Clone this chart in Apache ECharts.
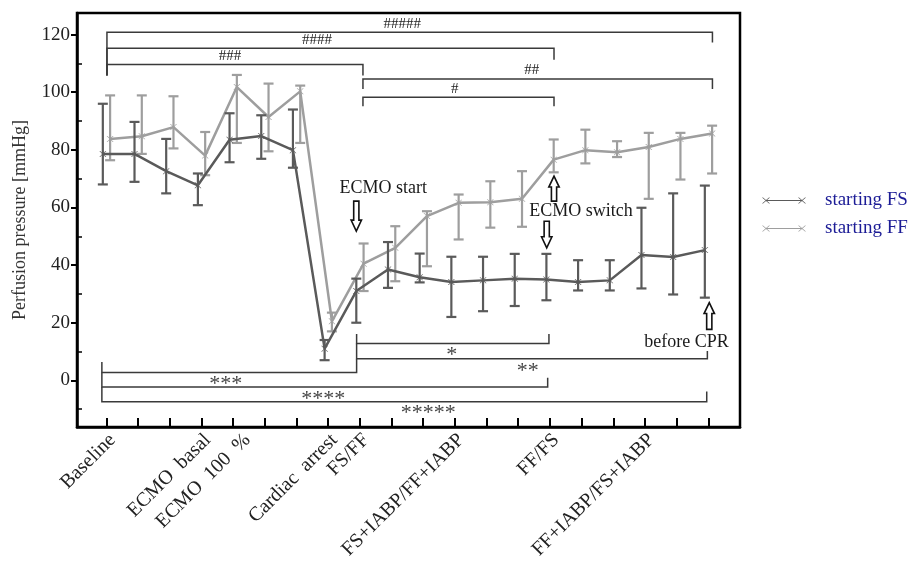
<!DOCTYPE html>
<html><head><meta charset="utf-8">
<script src="https://cdn.jsdelivr.net/npm/echarts@6/dist/echarts.min.js"></script>
<style>html,body{margin:0;padding:0;background:#fff}#c{width:919px;height:562px}</style>
</head><body><div id="c"></div>
<script>
// ---------- data ----------
const tickLabels = ['Baseline','ECMO  basal','ECMO  100  %','Cardiac  arrest','FS/FF','FS+IABP/FF+IABP','FF/FS','FF+IABP/FS+IABP'];
const tickLabelAt = [0,3,4,7,8,11,14,17];
const yTicks = [0,20,40,60,80,100,120];

const fsMean  = [78.6,78.6,72.6,67.7,83.5,84.8,79.9,11.0,31.0,38.5,35.8,34.1,34.7,35.3,35.0,34.1,34.7,43.5,42.8,45.2];
const fsUpper = [96.0,89.7,83.8,71.8,92.7,92.0,94.0,14.0,35.3,48.0,44.0,42.9,42.9,43.9,43.9,41.7,41.7,59.9,64.9,67.6];
const fsLower = [68.0,68.9,64.9,60.8,75.7,76.9,73.8, 7.0,20.0,32.1,34.0,22.0,24.0,25.8,27.8,31.2,31.2,31.9,29.8,28.7];

const ffMean  = [83.8,84.7,87.9,78.0,101.8,91.4,100.3,20.5,40.5,46.0,57.0,61.6,61.8,63.0,76.6,79.9,79.2,81.0,83.8,85.7];
const ffUpper = [98.9,98.9,98.6,86.2,106.0,103.0,102.3,23.5,47.5,53.5,58.7,64.5,69.1,72.6,83.6,87.0,83.0,85.9,85.9,88.4];
const ffLower = [76.4,78.6,80.5,71.2,82.4,79.5,82.4,17.0,31.0,34.4,39.6,48.9,53.0,53.3,72.2,75.3,77.5,63.0,69.7,71.8];

// comparison brackets: [from, to, level, endFrom, endTo, text, textAt]
const topBrackets = [
  [0.02, 19.13, 120.8, 105.8, 117.3, '#####', 9.34],
  [0.02, 14.13, 115.3, 105.8, 111.3, '####', 6.65],
  [0.02, 8.1, 109.6, 105.8, 105.8, '###', 3.9],
  [8.1, 19.13, 104.6, 101.1, 101.1, '##', 13.43],
  [8.1, 14.13, 98.3, 95.1, 95.1, '#', 11.0]
];
const bottomBrackets = [
  [7.9, 13.97, 12.8, 16.1, 16.1, '*', 10.9],
  [7.9, 18.97, 7.5, 12.8, 10.2, '**', 13.3],
  [-0.14, 7.9, 2.7, 6.4, 7.5, '***', 3.77],
  [-0.14, 13.93, -2.3, 2.7, 0.9, '****', 6.85],
  [-0.14, 18.95, -7.4, -2.3, -3.9, '*****', 10.16]
];
// arrows: [x, tail, tip]
const arrows = [[7.89, 62.2, 51.8],[14.13, 62.2, 70.9],[13.9, 55.2, 46.0],[19.03, 17.7, 27.0]];
// notes: [text, x, y]
const notes = [['ECMO start', 8.74, 66.6],['ECMO switch', 14.98, 58.6],['before CPR', 18.31, 13.3]];

// ---------- chart ----------
const SERIF = '"Liberation Serif","DejaVu Serif",serif';
const DARK = '#5a5a5a', LIGHT = '#9e9e9e';
const XMARK = 'path://M0,0L1,0L4,3.4L7,0L8,0L4.5,4L8,8L7,8L4,4.6L1,8L0,8L3.5,4Z';
const LEGICON = 'path://M0,0L1,0L4,3.4L7,0L8,0L4.5,4L8,8L7,8L4,4.6L1,8L0,8L3.5,4Z' +
  'M4.6,3.4L39.4,3.4L39.4,4.6L4.6,4.6Z' +
  'M36,0L37,0L40,3.4L43,0L44,0L40.5,4L44,8L43,8L40,4.6L37,8L36,8L39.5,4Z';
const offFS = -0.11, offFF = 0.12;
// rotated labels sit slightly right of their ticks in the reference
const labelPos = tickLabelAt.map(t => (t === 4 ? 4.25 : t) + 0.2);

function pts(mean, off){ return mean.map((v,i)=>[i+off, v]); }
function bars(lo, hi, off){ return lo.map((v,i)=>[i+off, v, hi[i]]); }

function errRender(color){
  return function(params, api){
    const x = api.value(0);
    const a = api.coord([x, api.value(1)]);
    const b = api.coord([x, api.value(2)]);
    const w = 5;
    const st = {stroke: color, lineWidth: 2.2};
    return {type:'group', children:[
      {type:'line', shape:{x1:a[0],y1:a[1],x2:b[0],y2:b[1]}, style:st},
      {type:'line', shape:{x1:a[0]-w,y1:a[1],x2:a[0]+w,y2:a[1]}, style:st},
      {type:'line', shape:{x1:b[0]-w,y1:b[1],x2:b[0]+w,y2:b[1]}, style:st}
    ]};
  };
}

function bracketRender(isTop){
  return function(params, api){
    const f = api.value(0), t = api.value(1), lv = api.value(2), ef = api.value(3), et = api.value(4);
    const d = isTop ? topBrackets[params.dataIndex] : bottomBrackets[params.dataIndex];
    const p1 = api.coord([f, ef]), p2 = api.coord([f, lv]), p3 = api.coord([t, lv]), p4 = api.coord([t, et]);
    const lp = api.coord([d[6], lv]);
    return {type:'group', children:[
      {type:'polyline', shape:{points:[p1,p2,p3,p4]}, style:{stroke:'#3a3a3a', lineWidth:1.5, fill:null}},
      {type:'text', x: lp[0], y: isTop ? lp[1]-1 : lp[1]+1,
        style:{text:d[5], align:'center', verticalAlign: isTop ? 'bottom':'top',
          font: isTop ? '15px '+SERIF : '22px '+SERIF, fill: isTop ? '#222':'#444'}}
    ]};
  };
}

function arrowRender(params, api){
  const x = api.value(0);
  const tail = api.coord([x, api.value(1)]);
  const tip = api.coord([x, api.value(2)]);
  const dir = tip[1] > tail[1] ? 1 : -1;
  const cx = tail[0], hs = 2.6, hw = 5.2, hl = 11;
  const yb = tip[1] - dir*hl;
  return {type:'polygon', shape:{points:[
    [cx-hs, tail[1]],[cx+hs, tail[1]],[cx+hs, yb],[cx+hw, yb],[cx, tip[1]],[cx-hw, yb],[cx-hs, yb]
  ]}, style:{fill:'#fff', stroke:'#111', lineWidth:1.6}};
}

function noteRender(params, api){
  const n = notes[params.dataIndex];
  const p = api.coord([n[1], n[2]]);
  return {type:'text', x:p[0], y:p[1], style:{text:n[0], align:'center', verticalAlign:'middle',
    font:'18px '+SERIF, fill:'#1a1a1a'}};
}

const chart = echarts.init(document.getElementById('c'), null, {renderer:'canvas'});
chart.setOption({
  animation:false,
  backgroundColor:'#fff',
  grid:{left:77, right:179, top:13, bottom:134, show:true, borderColor:'#000', borderWidth:2.5, backgroundColor:'transparent'},
  legend:{
    orient:'vertical', left:757, top:186, itemGap:9, itemWidth:44, itemHeight:6,
    symbolKeepAspect:false,
    textStyle:{fontFamily:SERIF, fontSize:19, color:'#1c1c96', padding:[0,0,0,14]},
    data:[{name:'starting FS', icon:LEGICON, itemStyle:{color:DARK}}, {name:'starting FF', icon:LEGICON, itemStyle:{color:LIGHT}}]
  },
  xAxis:{
    type:'value', min:-0.925, max:20,
    axisLine:{show:true, onZero:false, lineStyle:{color:'#000', width:2.5}},
    axisTick:{show:true, inside:true, length:9, customValues:fsMean.map((v,i)=>i), lineStyle:{color:'#000', width:2}},
    axisLabel:{show:true, rotate:45, margin:10, fontFamily:SERIF, fontSize:20, color:'#222',
      customValues: labelPos,
      formatter: function(v){ const k = labelPos.findIndex(t => Math.abs(t-v)<1e-6); return k>=0 ? tickLabels[k] : ''; }},
    splitLine:{show:false}
  },
  yAxis:[{
    type:'value', min:-16.2, max:127.5,
    name:'Perfusion pressure [mmHg]', nameLocation:'middle', nameGap:48, nameRotate:90,
    nameTextStyle:{fontFamily:SERIF, fontSize:18, color:'#333'},
    axisLine:{show:true, onZero:false, lineStyle:{color:'#000', width:2.5}},
    axisTick:{show:true, inside:false, length:6, customValues:yTicks, lineStyle:{color:'#000', width:2}},
    axisLabel:{show:true, margin:7, fontFamily:SERIF, fontSize:19, color:'#222', customValues:yTicks},
    splitLine:{show:false}
  },{
    type:'value', min:-16.2, max:127.5, position:'left',
    axisLine:{show:false, onZero:false},
    axisTick:{show:true, inside:true, length:5, customValues:[-10,10,30,50,70,90,110], lineStyle:{color:'#000', width:1.5}},
    axisLabel:{show:false}, splitLine:{show:false}
  }],
  series:[
    {type:'custom', name:'errFF', renderItem:errRender(LIGHT), data:bars(ffLower, ffUpper, offFF), z:2, silent:true},
    {type:'line', name:'starting FF', data:pts(ffMean, offFF), symbol:XMARK, symbolSize:[7,6], showSymbol:true,
      lineStyle:{color:LIGHT, width:2.5}, itemStyle:{color:LIGHT}, z:3},
    {type:'custom', name:'errFS', renderItem:errRender(DARK), data:bars(fsLower, fsUpper, offFS), z:4, silent:true},
    {type:'line', name:'starting FS', data:pts(fsMean, offFS), symbol:XMARK, symbolSize:[7,6], showSymbol:true,
      lineStyle:{color:DARK, width:2.5}, itemStyle:{color:DARK}, z:5},
    {type:'custom', renderItem:bracketRender(true), data:topBrackets.map(b=>b.slice(0,5)), z:6, silent:true},
    {type:'custom', renderItem:bracketRender(false), data:bottomBrackets.map(b=>b.slice(0,5)), z:6, silent:true},
    {type:'custom', renderItem:arrowRender, data:arrows, z:7, silent:true},
    {type:'custom', renderItem:noteRender, data:notes.map(n=>[n[1], n[2]]), z:7, silent:true}
  ]
});
</script></body></html>
